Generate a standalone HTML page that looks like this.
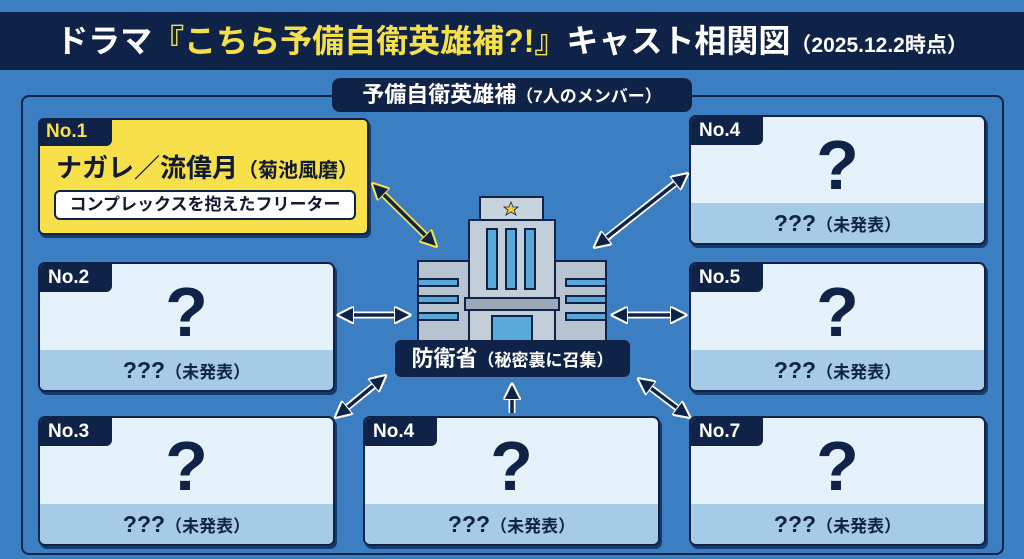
<!DOCTYPE html>
<html><head><meta charset="utf-8"><style>
*{margin:0;padding:0;box-sizing:border-box}
body{width:1024px;height:559px;overflow:hidden;background:#3b7ec2;font-family:"Liberation Sans","Noto Sans CJK JP",sans-serif;position:relative}
.title{position:absolute;left:0;top:12px;width:1024px;height:58px;background:#0f2248;color:#fff;font-weight:bold;font-size:32px;line-height:58px;text-align:center;letter-spacing:0px}
.title .y{color:#f5e04a}
.title small{font-size:21px}
.frame{position:absolute;left:21px;top:95px;width:983px;height:460px;border:2px solid #0f2248;border-radius:8px}
.tab{position:absolute;left:332px;top:78px;width:360px;height:34px;background:#0f2248;border-radius:8px;color:#fff;font-weight:bold;font-size:22px;line-height:34px;text-align:center}
.tab small{font-size:17px}
.card{position:absolute;width:297px;height:130px;border:2px solid #0f2248;border-radius:7px;background:#e6f2fb;overflow:hidden;box-shadow:2px 3px 0 #173a6b}
.card .band{position:absolute;left:0;right:0;bottom:0;height:40px;background:#a6cbe7}
.card .tag{position:absolute;left:0;top:0;width:72px;height:28px;background:#0f2248;color:#fff;font-weight:bold;font-size:19px;line-height:28px;padding-left:8px;border-bottom-right-radius:6px}
.card .q{position:absolute;left:0;right:0;top:6px;text-align:center;font-size:70px;font-weight:bold;color:#0f2248;line-height:84px}
.card .u{position:absolute;left:0;right:0;bottom:0;height:40px;line-height:40px;text-align:center;color:#0f2248;font-weight:bold;font-size:23px}
.card .u small{font-size:17px}
.c1{position:absolute;left:38px;top:118px;width:331px;height:117px;border:2px solid #0f2248;border-radius:6px;background:#f7e04a;box-shadow:2px 3px 0 #173a6b}
.c1 .tag{position:absolute;left:-2px;top:-2px;width:74px;height:28px;background:#0f2248;color:#f7e04a;font-weight:bold;font-size:19px;line-height:28px;padding-left:8px;border-radius:6px 0 6px 0}
.c1 .n{position:absolute;left:16px;top:28px;font-size:26px;font-weight:bold;color:#111a2e;white-space:nowrap}
.c1 .n small{font-size:20px}
.c1 .p{position:absolute;left:14px;top:70px;width:302px;height:30px;background:#fff;border:2px solid #0f2248;border-radius:6px;text-align:center;font-size:17px;line-height:26px;font-weight:bold;color:#111a2e}
.gov{position:absolute;left:395px;top:340px;width:235px;height:37px;background:#0f2248;border-radius:6px;color:#fff;font-weight:bold;font-size:22px;line-height:37px;text-align:center}
.gov small{font-size:17px}
</style></head><body>
<div class="title">ドラマ<span class="y">『こちら予備自衛英雄補?!』</span>キャスト相関図<small>（2025.12.2時点）</small></div>
<div class="frame"></div>
<div class="tab">予備自衛英雄補<small>（7人のメンバー）</small></div>

<div class="c1"><div class="tag">No.1</div><div class="n">ナガレ／流偉月<small>（菊池風磨）</small></div><div class="p">コンプレックスを抱えたフリーター</div></div>

<div class="card" style="left:38px;top:262px"><div class="band"></div><div class="tag">No.2</div><div class="q">?</div><div class="u">???<small>（未発表）</small></div></div>
<div class="card" style="left:38px;top:416px"><div class="band"></div><div class="tag">No.3</div><div class="q">?</div><div class="u">???<small>（未発表）</small></div></div>
<div class="card" style="left:363px;top:416px"><div class="band"></div><div class="tag">No.4</div><div class="q">?</div><div class="u">???<small>（未発表）</small></div></div>
<div class="card" style="left:689px;top:115px"><div class="band"></div><div class="tag">No.4</div><div class="q">?</div><div class="u">???<small>（未発表）</small></div></div>
<div class="card" style="left:689px;top:262px"><div class="band"></div><div class="tag">No.5</div><div class="q">?</div><div class="u">???<small>（未発表）</small></div></div>
<div class="card" style="left:689px;top:416px"><div class="band"></div><div class="tag">No.7</div><div class="q">?</div><div class="u">???<small>（未発表）</small></div></div>

<svg width="1024" height="559" style="position:absolute;left:0;top:0" xmlns="http://www.w3.org/2000/svg">
<defs>
<marker id="a" viewBox="0 0 10 10" refX="8" refY="5" markerWidth="5" markerHeight="5" orient="auto-start-reverse"><path d="M0,0 L10,5 L0,10 z" fill="#0f2248" stroke="#fff" stroke-width="1.2"/></marker>
<marker id="ay" viewBox="0 0 10 10" refX="8" refY="5" markerWidth="5" markerHeight="5" orient="auto-start-reverse"><path d="M0,0 L10,5 L0,10 z" fill="#0f2248" stroke="#f7e04a" stroke-width="1.2"/></marker>
</defs>
<g stroke-linecap="butt">
<line x1="376" y1="187" x2="433" y2="243" stroke="#f7e04a" stroke-width="7"/>
<line x1="374" y1="185" x2="435" y2="245" stroke="#0f2248" stroke-width="3.5" marker-start="url(#ay)" marker-end="url(#ay)"/>
<g stroke="#fff" stroke-width="7">
<line x1="683" y1="177" x2="599" y2="244"/><line x1="343" y1="315" x2="405" y2="315"/><line x1="617" y1="315" x2="681" y2="315"/><line x1="340" y1="413" x2="381" y2="380"/><line x1="643" y1="382" x2="685" y2="414"/><line x1="512" y1="413" x2="512" y2="390"/>
</g>
<g stroke="#0f2248" stroke-width="3.5">
<line x1="686" y1="175" x2="596" y2="246" marker-start="url(#a)" marker-end="url(#a)"/>
<line x1="340" y1="315" x2="408" y2="315" marker-start="url(#a)" marker-end="url(#a)"/>
<line x1="614" y1="315" x2="684" y2="315" marker-start="url(#a)" marker-end="url(#a)"/>
<line x1="337" y1="416" x2="384" y2="377" marker-start="url(#a)" marker-end="url(#a)"/>
<line x1="640" y1="380" x2="688" y2="416" marker-start="url(#a)" marker-end="url(#a)"/>
<line x1="512" y1="413" x2="512" y2="386" marker-end="url(#a)"/>
</g>
</g>
<g stroke="#0f2248" stroke-width="2">
<rect x="480" y="197" width="63" height="24" fill="#c9d3de"/>
<rect x="418" y="261" width="52" height="80" fill="#b7c3cf"/>
<rect x="554" y="261" width="52" height="80" fill="#b7c3cf"/>
<rect x="469" y="220" width="86" height="121" fill="#c3ced9"/>
<rect x="487" y="229" width="10" height="60" fill="#5aa8d8"/>
<rect x="506" y="229" width="10" height="60" fill="#5aa8d8"/>
<rect x="525" y="229" width="10" height="60" fill="#5aa8d8"/>
<rect x="418" y="279" width="40" height="7" fill="#5aa8d8"/>
<rect x="418" y="296" width="40" height="7" fill="#5aa8d8"/>
<rect x="418" y="313" width="40" height="7" fill="#5aa8d8"/>
<rect x="566" y="279" width="40" height="7" fill="#5aa8d8"/>
<rect x="566" y="296" width="40" height="7" fill="#5aa8d8"/>
<rect x="566" y="313" width="40" height="7" fill="#5aa8d8"/>
<rect x="465" y="298" width="94" height="12" fill="#9aa7b4"/>
<rect x="492" y="316" width="40" height="25" fill="#5aa8d8"/>
</g>
<polygon points="511,202 513,207 518,207 514,210 516,215 511,212 506,215 508,210 504,207 509,207" fill="#f5d23a" stroke="#0f2248" stroke-width="0.8"/>
</svg>
<div class="gov">防衛省<small>（秘密裏に召集）</small></div>
</body></html>
